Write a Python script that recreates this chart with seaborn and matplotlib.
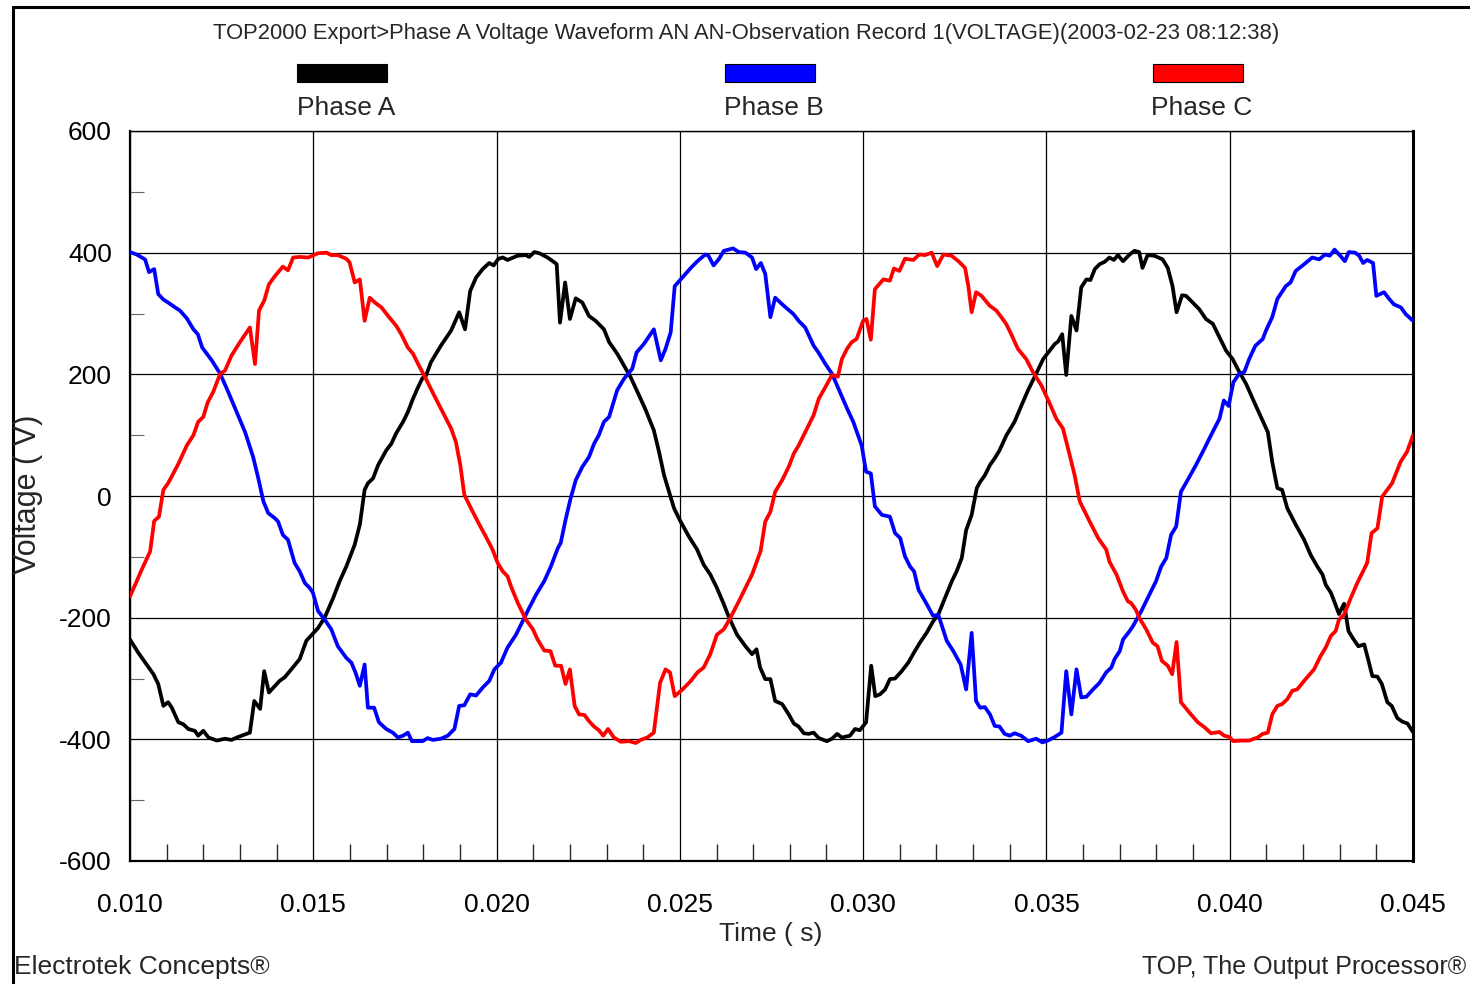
import numpy as np
import pandas as pd
import matplotlib
matplotlib.use("Agg")
import matplotlib.pyplot as plt
import seaborn as sns
from matplotlib.patches import Rectangle
from matplotlib.lines import Line2D
from matplotlib.ticker import MultipleLocator

# ---------------- data (time in ms, voltage in V) ----------------
t_a = [10.00, 10.23, 10.64, 10.77, 10.91, 11.04, 11.14, 11.32, 11.45, 11.59, 11.77, 11.86, 12.00, 12.14,
       12.37, 12.59, 12.77, 12.91, 13.27, 13.39, 13.55, 13.66, 13.79, 13.96, 14.08, 14.22, 14.40, 14.63,
       14.81, 15.13, 15.31, 15.54, 15.72, 15.90, 16.13, 16.27, 16.40, 16.49, 16.63, 16.77, 16.99, 17.13,
       17.26, 17.45, 17.58, 17.72, 17.86, 17.98, 18.07, 18.21, 18.48, 18.76, 18.98, 19.14, 19.28, 19.44,
       19.62, 19.80, 19.92, 20.05, 20.17, 20.30, 20.57, 20.80, 20.89, 21.03, 21.17, 21.39, 21.58, 21.64,
       21.73, 21.87, 22.00, 22.16, 22.34, 22.52, 22.70, 22.93, 23.07, 23.29, 23.48, 23.66, 23.89, 24.07,
       24.29, 24.43, 24.57, 24.84, 25.02, 25.25, 25.47, 25.65, 25.83, 26.01, 26.20, 26.33, 26.56, 26.79,
       26.97, 27.09, 27.19, 27.33, 27.47, 27.60, 27.79, 27.97, 28.11, 28.24, 28.38, 28.51, 28.65, 28.79,
       29.01, 29.15, 29.29, 29.42, 29.64, 29.78, 29.91, 30.08, 30.22, 30.33, 30.46, 30.60, 30.73, 30.87,
       31.05, 31.23, 31.41, 31.55, 31.73, 31.91, 32.05, 32.23, 32.42, 32.55, 32.69, 32.81, 32.96, 33.10,
       33.19, 33.32, 33.46, 33.59, 33.72, 33.91, 34.13, 34.32, 34.50, 34.72, 34.91, 35.09, 35.23, 35.32,
       35.43, 35.54, 35.68, 35.82, 35.95, 36.09, 36.20, 36.32, 36.45, 36.59, 36.72, 36.84, 36.95, 37.09,
       37.27, 37.40, 37.53, 37.62, 37.76, 37.94, 38.17, 38.31, 38.44, 38.55, 38.70, 38.81, 38.99, 39.17,
       39.35, 39.54, 39.72, 39.90, 40.08, 40.26, 40.45, 40.67, 40.85, 41.04, 41.16, 41.30, 41.43, 41.57,
       41.80, 42.03, 42.21, 42.39, 42.53, 42.62, 42.76, 42.85, 42.98, 43.12, 43.24, 43.35, 43.51, 43.67,
       43.80, 43.89, 44.03, 44.15, 44.30, 44.42, 44.57, 44.71, 44.85, 45.00]
v_a = [-236, -258, -293, -309, -345, -339, -348, -372, -375, -383, -386, -394, -386, -397,
       -402, -399, -401, -397, -389, -337, -350, -288, -323, -312, -304, -298, -285, -268,
       -238, -217, -200, -168, -140, -116, -80, -47, 10, 21, 29, 51, 75, 86,
       103, 122, 138, 160, 179, 194, 197, 220, 247, 272, 302, 274, 337, 359,
       373, 383, 379, 390, 392, 388, 395, 396, 393, 401, 399, 392, 384, 381,
       285, 351, 291, 325, 318, 296, 288, 274, 253, 234, 214, 195, 165, 141,
       108, 73, 34, -20, -42, -67, -88, -113, -129, -151, -178, -198, -228, -247,
       -260, -252, -282, -301, -301, -337, -342, -359, -374, -379, -390, -391, -389, -398,
       -403, -399, -391, -397, -394, -383, -385, -372, -279, -329, -326, -318, -301, -300,
       -288, -274, -255, -241, -225, -206, -195, -168, -140, -124, -102, -56, -31, 13,
       23, 34, 51, 62, 75, 100, 122, 149, 174, 201, 225, 239, 250, 254,
       266, 199, 296, 272, 343, 356, 355, 373, 381, 385, 392, 388, 396, 386,
       397, 403, 401, 375, 396, 395, 389, 375, 345, 302, 330, 329, 318, 307,
       291, 283, 261, 239, 225, 204, 184, 154, 130, 105, 56, 13, 10, -20,
       -47, -72, -97, -116, -129, -146, -159, -173, -194, -177, -222, -233, -247, -244,
       -274, -296, -297, -309, -339, -345, -365, -371, -374, -388]

t_b = [10.00, 10.18, 10.41, 10.52, 10.66, 10.77, 10.91, 11.04, 11.23, 11.36, 11.55, 11.73, 11.85, 11.97,
       12.23, 12.46, 12.68, 12.91, 13.14, 13.36, 13.50, 13.64, 13.77, 13.96, 14.04, 14.17, 14.31, 14.49,
       14.63, 14.77, 14.90, 14.99, 15.13, 15.31, 15.49, 15.67, 15.90, 16.04, 16.15, 16.27, 16.40, 16.49,
       16.66, 16.79, 16.99, 17.17, 17.31, 17.45, 17.58, 17.69, 17.98, 18.12, 18.26, 18.48, 18.67, 18.85,
       18.98, 19.12, 19.28, 19.44, 19.62, 19.80, 19.94, 20.12, 20.30, 20.53, 20.71, 20.89, 21.08, 21.30,
       21.48, 21.67, 21.75, 21.89, 22.02, 22.16, 22.34, 22.52, 22.66, 22.79, 22.93, 23.07, 23.29, 23.48,
       23.70, 23.82, 24.02, 24.29, 24.48, 24.61, 24.75, 24.86, 25.02, 25.30, 25.48, 25.69, 25.78, 25.92,
       26.06, 26.20, 26.45, 26.61, 26.79, 26.97, 27.08, 27.21, 27.33, 27.47, 27.60, 27.83, 28.10, 28.24,
       28.42, 28.65, 28.78, 28.97, 29.15, 29.33, 29.56, 29.73, 29.96, 30.08, 30.21, 30.32, 30.51, 30.73,
       30.87, 31.01, 31.14, 31.28, 31.39, 31.51, 31.69, 31.91, 32.05, 32.28, 32.46, 32.66, 32.81, 32.96,
       33.08, 33.19, 33.32, 33.46, 33.59, 33.72, 33.86, 34.00, 34.13, 34.31, 34.50, 34.72, 34.89, 35.04,
       35.23, 35.41, 35.54, 35.68, 35.82, 35.95, 36.09, 36.27, 36.45, 36.63, 36.77, 36.86, 37.00, 37.09,
       37.27, 37.36, 37.59, 37.81, 37.99, 38.13, 38.27, 38.40, 38.54, 38.67, 38.85, 39.08, 39.31, 39.49,
       39.72, 39.84, 39.97, 40.10, 40.26, 40.40, 40.53, 40.70, 40.90, 40.99, 41.16, 41.30, 41.53, 41.66,
       41.80, 42.03, 42.25, 42.44, 42.60, 42.73, 42.86, 43.00, 43.14, 43.25, 43.42, 43.53, 43.64, 43.75,
       43.91, 44.00, 44.21, 44.35, 44.48, 44.67, 44.80, 45.00]
v_b = [401, 397, 389, 368, 373, 332, 323, 318, 310, 305, 292, 274, 266, 244,
       223, 201, 171, 138, 105, 64, 29, -9, -28, -37, -42, -64, -72, -110,
       -124, -143, -151, -159, -189, -203, -219, -247, -266, -274, -290, -312, -277, -348,
       -348, -372, -383, -389, -397, -394, -389, -403, -403, -398, -401, -399, -394, -383,
       -345, -344, -326, -328, -315, -304, -285, -274, -249, -228, -206, -184, -162, -140,
       -116, -86, -77, -37, -4, 26, 48, 64, 86, 100, 122, 130, 174, 193,
       209, 236, 250, 274, 223, 242, 269, 345, 356, 375, 386, 397, 395, 379,
       389, 403, 407, 401, 400, 392, 373, 383, 365, 294, 326, 313, 299, 288,
       277, 247, 236, 217, 201, 176, 144, 122, 83, 40, 37, -17, -31, -34,
       -61, -69, -99, -116, -124, -154, -173, -197, -195, -238, -255, -277, -318, -225,
       -337, -348, -347, -359, -378, -379, -391, -394, -390, -394, -403, -399, -405, -402,
       -396, -389, -288, -359, -285, -331, -330, -318, -307, -290, -282, -268, -255, -236,
       -222, -214, -189, -162, -140, -116, -102, -64, -50, 7, 26, 51, 78, 100,
       127, 157, 148, 187, 201, 204, 225, 247, 258, 272, 294, 324, 345, 351,
       370, 381, 392, 389, 397, 395, 405, 396, 386, 401, 400, 395, 383, 388,
       383, 329, 335, 324, 315, 310, 299, 288]

t_c = [10.00, 10.14, 10.32, 10.55, 10.66, 10.79, 10.91, 11.04, 11.32, 11.55, 11.73, 11.86, 12.00, 12.12,
       12.27, 12.46, 12.59, 12.77, 13.00, 13.27, 13.41, 13.52, 13.66, 13.79, 13.96, 14.17, 14.31, 14.45,
       14.63, 14.86, 15.13, 15.36, 15.49, 15.67, 15.90, 15.99, 16.13, 16.27, 16.40, 16.54, 16.68, 16.86,
       17.04, 17.26, 17.40, 17.58, 17.72, 17.86, 18.07, 18.30, 18.53, 18.76, 18.89, 19.01, 19.12, 19.30,
       19.53, 19.71, 19.89, 20.03, 20.17, 20.30, 20.39, 20.58, 20.80, 20.99, 21.12, 21.30, 21.47, 21.60,
       21.76, 21.88, 22.00, 22.13, 22.25, 22.40, 22.52, 22.66, 22.79, 22.91, 23.04, 23.20, 23.39, 23.61,
       23.80, 23.93, 24.11, 24.29, 24.46, 24.61, 24.73, 24.86, 25.07, 25.30, 25.48, 25.65, 25.83, 26.01,
       26.20, 26.38, 26.61, 26.79, 26.97, 27.20, 27.33, 27.47, 27.60, 27.79, 27.97, 28.11, 28.24, 28.42,
       28.65, 28.79, 28.97, 29.15, 29.31, 29.42, 29.56, 29.69, 29.82, 30.00, 30.09, 30.21, 30.32, 30.55,
       30.73, 30.84, 30.99, 31.14, 31.37, 31.53, 31.69, 31.87, 32.02, 32.19, 32.41, 32.60, 32.78, 32.87,
       32.96, 33.08, 33.23, 33.45, 33.63, 33.77, 33.90, 34.04, 34.22, 34.45, 34.63, 34.86, 35.09, 35.27,
       35.45, 35.59, 35.77, 35.91, 36.18, 36.41, 36.63, 36.72, 36.91, 37.09, 37.22, 37.31, 37.44, 37.53,
       37.72, 37.90, 38.03, 38.15, 38.31, 38.43, 38.55, 38.67, 38.90, 39.13, 39.31, 39.49, 39.72, 39.85,
       39.99, 40.10, 40.31, 40.53, 40.76, 40.90, 41.04, 41.16, 41.30, 41.43, 41.57, 41.71, 41.84, 42.07,
       42.30, 42.48, 42.62, 42.76, 42.89, 42.98, 43.12, 43.30, 43.48, 43.75, 43.87, 44.03, 44.16, 44.43,
       44.66, 44.84, 45.00]
v_c = [-165, -146, -121, -91, -41, -34, 10, 21, 53, 83, 100, 122, 130, 154,
       171, 201, 206, 231, 253, 277, 217, 305, 321, 348, 362, 377, 371, 392,
       393, 392, 399, 400, 396, 396, 390, 384, 351, 356, 288, 326, 318, 310,
       296, 280, 266, 244, 234, 217, 193, 165, 138, 111, 89, 51, 2, -20,
       -47, -67, -88, -110, -124, -132, -148, -176, -203, -219, -236, -254, -255, -279,
       -279, -309, -285, -345, -359, -360, -370, -379, -385, -394, -383, -397, -404, -403,
       -406, -401, -397, -389, -307, -285, -290, -329, -318, -304, -290, -282, -260, -228,
       -219, -200, -173, -151, -129, -91, -42, -26, 7, 26, 48, 70, 83, 105,
       133, 160, 179, 199, 196, 225, 242, 253, 258, 288, 291, 257, 340, 356,
       354, 374, 370, 390, 388, 397, 396, 400, 378, 397, 395, 386, 375, 345,
       302, 335, 329, 313, 305, 294, 283, 266, 242, 225, 204, 182, 152, 127,
       111, 78, 34, -9, -42, -69, -88, -108, -129, -157, -173, -176, -187, -200,
       -219, -241, -247, -271, -279, -293, -240, -339, -356, -372, -380, -390, -388, -394,
       -396, -403, -402, -402, -397, -391, -389, -359, -345, -342, -334, -320, -318, -301,
       -285, -263, -249, -230, -222, -203, -195, -168, -143, -110, -61, -53, -1, 21,
       56, 73, 100]

phases = ["Phase A", "Phase B", "Phase C"]
colors = ["#000000", "#0000FF", "#FF0000"]
x_ticks = [0.010, 0.015, 0.020, 0.025, 0.030, 0.035, 0.040, 0.045]
y_ticks = [-600, -400, -200, 0, 200, 400, 600]

title = "TOP2000 Export>Phase A Voltage Waveform AN AN-Observation Record 1(VOLTAGE)(2003-02-23 08:12:38)"

df = pd.concat([
    pd.DataFrame({"Time": np.array(t) / 1000.0, "Voltage": v, "Phase": p})
    for t, v, p in [(t_a, v_a, phases[0]), (t_b, v_b, phases[1]), (t_c, v_c, phases[2])]
], ignore_index=True)

# ---------------- figure ----------------
sns.set_style("white")
plt.rcParams["font.family"] = ["Liberation Sans", "DejaVu Sans"]

W, H = 1470, 984
fig = plt.figure(figsize=(W / 100, H / 100), dpi=100)
ax = fig.add_axes([130 / W, 1 - 861 / H, 1283 / W, 730 / H])

sns.lineplot(data=df, x="Time", y="Voltage", hue="Phase", palette=dict(zip(phases, colors)),
             estimator=None, sort=False, linewidth=2.7, legend=False, ax=ax, zorder=3)

ax.set_xlim(0.010, 0.045)
ax.set_ylim(-600, 600)
ax.set_xticks(x_ticks)
ax.set_xticklabels([f"{x:.3f}" for x in x_ticks])
ax.set_yticks(y_ticks)
ax.set_yticklabels([str(y) for y in y_ticks])
ax.xaxis.set_minor_locator(MultipleLocator(0.001))
ax.yaxis.set_minor_locator(MultipleLocator(100))

ax.grid(True, which="major", color="black", linewidth=0.9, zorder=1)
ax.tick_params(axis="x", which="major", direction="out", length=14, width=1.2, pad=9,
               labelsize=19, colors="black")
ax.tick_params(axis="x", which="minor", direction="in", length=12, width=1.0, bottom=True)
ax.tick_params(axis="y", which="major", direction="out", length=11, width=1.2, pad=2,
               labelsize=19, colors="black")
ax.tick_params(axis="y", which="minor", direction="in", length=10, width=0.8, left=True,
               color="#666666")

for side, lw in [("left", 1.6), ("bottom", 1.6), ("top", 1.0), ("right", 2.2)]:
    ax.spines[side].set_visible(True)
    ax.spines[side].set_color("black")
    ax.spines[side].set_linewidth(lw)

ax.set_xlabel("")
ax.set_ylabel("")

# axis labels
fig.text(771 / W, 1 - 934 / H, "Time ( s)", ha="center", va="center", fontsize=19)
fig.text(28 / W, 1 - 494 / H, "Voltage ( V)", ha="center", va="center", fontsize=22, rotation=90)

# title
fig.text(746 / W, 1 - 34 / H, title, ha="center", va="center", fontsize=15.8)

# legend (bars + labels)
for p, c, xc in zip(phases, colors, [342, 770, 1198]):
    fig.patches.append(Rectangle(((xc - 45) / W, 1 - 82 / H), 90 / W, 18 / H,
                                 transform=fig.transFigure, facecolor=c,
                                 edgecolor="black", linewidth=0.8))
    fig.text((xc + 4) / W, 1 - 108 / H, p, ha="center", va="center", fontsize=19)

# footer
fig.text(14 / W, 1 - 967 / H, "Electrotek Concepts®", ha="left", va="center", fontsize=19)
fig.text(1466 / W, 1 - 967 / H, "TOP, The Output Processor®", ha="right", va="center", fontsize=18)

# outer frame (left and top)
fig.add_artist(Line2D([13 / W, 13 / W], [0, 1 - 7 / H], transform=fig.transFigure,
                      color="black", linewidth=2.2))
fig.add_artist(Line2D([13 / W, 1], [1 - 7 / H, 1 - 7 / H], transform=fig.transFigure,
                      color="black", linewidth=2.2))

fig.savefig("out.png", dpi=100, facecolor="white")
